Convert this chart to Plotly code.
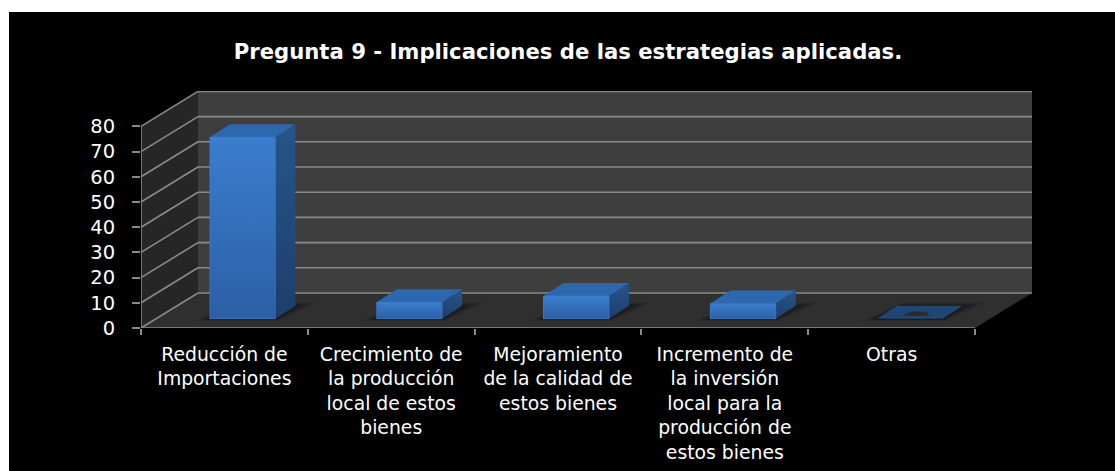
import plotly.graph_objects as go

categories = [
    "Reducción de<br>Importaciones",
    "Crecimiento de<br>la producción<br>local de estos<br>bienes",
    "Mejoramiento<br>de la calidad de<br>estos bienes",
    "Incremento de<br>la inversión<br>local para la<br>producción de<br>estos bienes",
    "Otras",
]
values = [72, 6.5, 9, 6, 0]
y_ticks = [0, 10, 20, 30, 40, 50, 60, 70, 80]
title = "Pregunta 9 - Implicaciones de las estrategias aplicadas."

# Frame of the oblique projection, in axis units
W, H = 1115, 471
L, R, T, B = 141, 1033, 91, 328          # pixel box of the axes
PX_X = 166.8                             # pixels per category
PX_Y = 2.52                              # pixels per value unit
N = len(categories)
DX, DY = 57 / PX_X, 35 / PX_Y            # wall depth
BAR_W = 65.5 / PX_X
BAR_DX, BAR_DY = 20 / PX_X, 13 / PX_Y    # bar depth
SHIFT_X, BASE = 18.2 / PX_X, 9.3 / PX_Y  # bar placement on the floor
x_max, y_max = (R - L) / PX_X, (B - T) / PX_Y
GRID = "#8a8a8a"
FONT = "DejaVu Sans"


def poly(pts, color, layer="below"):
    path = "M" + " L".join(f"{x},{y}" for x, y in pts) + " Z"
    return dict(type="path", path=path, xref="x", yref="y", fillcolor=color,
                line=dict(width=0), layer=layer)


def seg(x0, y0, x1, y1, width=1.6, color=GRID):
    return dict(type="line", x0=x0, y0=y0, x1=x1, y1=y1, xref="x", yref="y",
                line=dict(color=color, width=width), layer="below")


shapes = [
    # black panel
    dict(type="rect", xref="paper", yref="paper", layer="below",
         x0=(9 - L) / (R - L), x1=(W - L) / (R - L),
         y0=(B - H) / (B - T), y1=(B - 12) / (B - T),
         fillcolor="#000000", line=dict(width=0)),
    poly([(DX, DY), (DX + N, DY), (DX + N, y_max), (DX, y_max)], "#3e3e3e"),
    poly([(0, 0), (DX, DY), (DX, y_max), (0, 80)], "#262626"),
    poly([(0, 0), (N, 0), (N + DX, DY), (DX, DY)], "#2f2f2f"),
]
for t in y_ticks:
    shapes.append(seg(0, t, DX, t + DY))
    shapes.append(seg(DX, t + DY, DX + N, t + DY))
shapes.append(seg(0, 0, 0, 80))
shapes.append(seg(0, 0, N, 0))

# soft floor shadows under each bar, built up in thin sheared layers
for i in range(N):
    c = i + 0.5 + SHIFT_X
    for k in range(6):
        g = (5 - k) / 5
        x0 = c - BAR_W / 2 - 0.015 - 0.07 * g
        x1 = c + BAR_W / 2 + 0.015 * g
        y0 = BASE - 0.3 - 0.5 * g
        y1 = BASE + BAR_DY + 1.2 * g
        shift = BAR_DX + 0.02 + 0.10 * g
        shapes.append(poly([(x0, y0), (x1, y0), (x1 + shift, y1), (x0 + shift, y1)],
                           "rgba(0,0,0,0.07)"))

centers = [i + 0.5 + SHIFT_X for i in range(N)]
fig = go.Figure()
fig.add_trace(go.Bar(x=centers, y=values, base=BASE, width=BAR_W,
                     marker=dict(color="#3068b4", line=dict(width=0)),
                     hoverinfo="skip", showlegend=False))


def face(pts, scale=None, color=None, line="rgba(0,0,0,0)"):
    xs = [p[0] for p in pts] + [pts[0][0]]
    ys = [p[1] for p in pts] + [pts[0][1]]
    kw = dict(fillgradient=dict(type="vertical", colorscale=scale)) if scale else dict(fillcolor=color)
    fig.add_trace(go.Scatter(x=xs, y=ys, mode="lines", fill="toself",
                             line=dict(width=0.8, color=line), hoverinfo="skip",
                             showlegend=False, **kw))


for c, v in zip(centers, values):
    x0, x1 = c - BAR_W / 2, c + BAR_W / 2
    y0, y1 = BASE, BASE + v
    if v > 0:
        face([(x1, y0), (x1 + BAR_DX, y0 + BAR_DY), (x1 + BAR_DX, y1 + BAR_DY), (x1, y1)],
             scale=[[0, "#1c3f6c"], [1, "#265589"]])
        face([(x0, y1), (x1, y1), (x1 + BAR_DX, y1 + BAR_DY), (x0 + BAR_DX, y1 + BAR_DY)],
             color="#2d67ad")
        face([(x0, y0), (x1, y0), (x1, y1), (x0, y1)],
             scale=[[0, "#2c5fa5"], [1, "#3b7dce"]], line="rgba(62,128,210,0.75)")
    else:
        face([(x0, y1), (x1, y1), (x1 + BAR_DX, y1 + BAR_DY), (x0 + BAR_DX, y1 + BAR_DY)],
             color="#1f4674")
        cx = c + BAR_DX / 2
        face([(cx - 0.11, y1 + 1.2), (cx + 0.06, y1 + 1.2),
              (cx + 0.035, y1 + 2.9), (cx - 0.05, y1 + 2.9)], color="#2a2a2a")

fig.update_layout(
    width=W, height=H,
    margin=dict(l=L, r=W - R, t=T, b=H - B, pad=0),
    paper_bgcolor="#ffffff", plot_bgcolor="rgba(0,0,0,0)",
    showlegend=False, shapes=shapes, bargap=0,
    font=dict(family=FONT, color="#ffffff"),
    title=dict(text=f"<b>{title}</b>", x=568 / W, xanchor="center",
               xref="container", y=1 - 52 / H, yanchor="middle",
               font=dict(size=21.2, family=FONT, color="#ffffff")),
    xaxis=dict(range=[0, x_max], showgrid=False, zeroline=False, showline=False,
               tickmode="array", tickvals=[i + 0.5 for i in range(N)], ticktext=categories,
               ticks="", tickfont=dict(size=18.8, color="#ffffff"), tickangle=0,
               ticklabelstandoff=13, automargin=False,
               minor=dict(tickmode="array", tickvals=list(range(N + 1)), ticks="outside",
                          ticklen=6, tickwidth=1.5, tickcolor=GRID, showgrid=False)),
    yaxis=dict(range=[0, y_max], showgrid=False, zeroline=False, showline=False,
               tickmode="array", tickvals=y_ticks, ticks="outside", ticklen=8,
               tickwidth=1.5, tickcolor=GRID, automargin=False,
               ticklabelstandoff=13,
               tickfont=dict(size=19.5, color="#ffffff")),
)

fig.write_html("out.html", post_script="document.body.style.margin='0';",
               config={"displayModeBar": False})
